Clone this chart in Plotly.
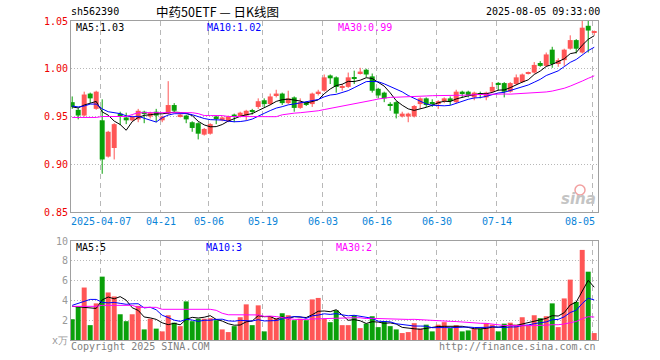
import pandas as pd
import plotly.graph_objects as go

# ---------------- data ----------------
holidays = ["2025-04-04", "2025-05-01", "2025-05-02", "2025-05-05", "2025-06-02"]
dates = [d.strftime("%Y-%m-%d") for d in pd.bdate_range("2025-03-28", "2025-08-05")
         if d.strftime("%Y-%m-%d") not in holidays]

opens = [0.965, 0.957, 0.951, 0.974, 0.958, 0.946, 0.908, 0.917, 0.953, 0.949,
         0.946, 0.947, 0.955, 0.950, 0.955, 0.946, 0.953, 0.962, 0.950, 0.951,
         0.944, 0.943, 0.931, 0.932, 0.950, 0.946, 0.945, 0.952, 0.950, 0.951,
         0.956, 0.960, 0.967, 0.963, 0.972, 0.974, 0.964, 0.970, 0.959, 0.965,
         0.963, 0.974, 0.977, 0.993, 0.991, 0.980, 0.981, 0.991, 0.995, 0.999,
         0.992, 0.979, 0.975, 0.963, 0.965, 0.950, 0.950, 0.950, 0.963, 0.969,
         0.965, 0.963, 0.967, 0.969, 0.965, 0.976, 0.976, 0.970, 0.974, 0.970,
         0.976, 0.985, 0.985, 0.976, 0.984, 0.986, 0.995, 0.996, 1.006, 1.003,
         1.020, 1.005, 1.009, 1.021, 1.030, 1.017, 1.045, 1.038]
closes = [0.960, 0.951, 0.973, 0.969, 0.976, 0.905, 0.934, 0.942, 0.951, 0.946,
          0.950, 0.956, 0.953, 0.954, 0.951, 0.950, 0.962, 0.956, 0.952, 0.947,
          0.938, 0.932, 0.937, 0.942, 0.948, 0.949, 0.950, 0.950, 0.954, 0.956,
          0.955, 0.966, 0.963, 0.971, 0.974, 0.964, 0.969, 0.959, 0.965, 0.963,
          0.974, 0.976, 0.991, 0.990, 0.981, 0.981, 0.991, 0.990, 0.997, 0.994,
          0.977, 0.972, 0.969, 0.962, 0.953, 0.953, 0.953, 0.961, 0.969, 0.962,
          0.964, 0.966, 0.969, 0.967, 0.976, 0.974, 0.972, 0.975, 0.973, 0.975,
          0.981, 0.984, 0.976, 0.985, 0.991, 0.994, 0.996, 1.004, 1.003, 1.015,
          1.005, 1.009, 1.020, 1.030, 1.021, 1.043, 1.040, 1.039]
highs = [0.971, 0.959, 0.976, 0.975, 0.977, 0.968, 0.935, 0.943, 0.955, 0.954,
         0.951, 0.958, 0.956, 0.955, 0.958, 0.951, 0.987, 0.964, 0.953, 0.952,
         0.945, 0.944, 0.938, 0.943, 0.951, 0.950, 0.951, 0.953, 0.955, 0.957,
         0.958, 0.969, 0.969, 0.974, 0.978, 0.975, 0.977, 0.971, 0.969, 0.966,
         0.975, 0.978, 0.994, 0.994, 0.992, 0.984, 0.996, 0.998, 1.001, 1.000,
         0.995, 0.980, 0.976, 0.965, 0.966, 0.955, 0.954, 0.962, 0.970, 0.970,
         0.968, 0.967, 0.970, 0.971, 0.978, 0.977, 0.977, 0.976, 0.976, 0.976,
         0.986, 0.986, 0.986, 0.986, 0.994, 0.995, 0.997, 1.007, 1.008, 1.017,
         1.023, 1.011, 1.021, 1.035, 1.031, 1.051, 1.051, 1.040]
lows = [0.958, 0.947, 0.950, 0.964, 0.957, 0.890, 0.907, 0.905, 0.941, 0.942,
        0.945, 0.944, 0.943, 0.948, 0.944, 0.944, 0.952, 0.955, 0.949, 0.943,
        0.934, 0.926, 0.930, 0.931, 0.942, 0.945, 0.944, 0.944, 0.949, 0.946,
        0.952, 0.958, 0.960, 0.962, 0.970, 0.962, 0.963, 0.955, 0.958, 0.961,
        0.960, 0.972, 0.976, 0.984, 0.975, 0.977, 0.980, 0.984, 0.994, 0.991,
        0.975, 0.969, 0.965, 0.956, 0.948, 0.949, 0.944, 0.949, 0.958, 0.960,
        0.960, 0.958, 0.964, 0.962, 0.964, 0.970, 0.970, 0.967, 0.969, 0.967,
        0.975, 0.977, 0.970, 0.975, 0.983, 0.985, 0.994, 0.995, 1.002, 1.002,
        1.001, 1.002, 1.003, 1.020, 1.016, 1.016, 1.017, 1.035]
volumes = [2.1, 3.35, 5.3, 1.5, 3.7, 6.4, 4.8, 4.4, 2.6, 1.9,
           2.6, 3.45, 1.07, 2.15, 1.15, 0.87, 2.5, 1.75, 1.4, 3.9,
           1.9, 2.15, 2.15, 2.2, 2.0, 1.07, 0.8, 1.4, 2.3, 3.6,
           1.5, 3.5, 0.87, 2.4, 2.2, 2.7, 2.5, 2.0, 2.15, 2.0,
           4.1, 4.25, 2.15, 1.8, 3.0, 1.5, 1.5, 2.5, 1.2, 1.65,
           2.4, 1.3, 1.9, 1.4, 1.07, 0.7, 0.8, 1.7, 1.15, 1.55,
           0.87, 1.55, 1.8, 1.2, 1.5, 0.87, 0.97, 1.15, 1.15, 1.7,
           1.55, 0.87, 1.65, 1.75, 1.55, 2.3, 1.5, 2.5, 2.2, 2.4,
           3.7, 1.3, 4.2, 6.1, 3.85, 9.1, 6.9, 0.7]

# moving-average values before a full window exists
ma5_head = [0.960, 0.959, 0.962, 0.964]
ma10_head = [0.961, 0.960, 0.961, 0.963, 0.963, 0.958, 0.955, 0.954, 0.953]
ma30_head = [0.949, 0.949, 0.949, 0.949, 0.949, 0.950, 0.950, 0.950, 0.950, 0.950,
             0.952, 0.954, 0.954, 0.954, 0.954, 0.954, 0.954, 0.954, 0.954, 0.954,
             0.954, 0.953, 0.951, 0.951, 0.951, 0.951, 0.950, 0.950, 0.950]
vma5_head = [3.4, 3.35, 3.3, 3.3]
vma10_head = [3.5, 3.7, 3.9, 4.1, 4.1, 3.8, 3.75, 3.8, 3.7]
vma30_head = [3.4, 3.4, 3.4, 3.4, 3.4, 3.5, 3.5, 3.5, 3.5, 3.5,
              3.5, 3.3, 3.3, 3.3, 3.3, 3.1, 3.1, 3.1, 3.1, 3.1,
              3.1, 3.1, 3.1, 3.1, 3.0, 2.7, 2.55, 2.55, 2.55]

tick_dates = ["2025-04-07", "2025-04-21", "2025-05-06", "2025-05-19", "2025-06-03",
              "2025-06-16", "2025-06-30", "2025-07-14", "2025-08-05"]
tick_labels = ["2025-04-07", "04-21", "05-06", "05-19", "06-03",
               "06-16", "06-30", "07-14", "08-05"]
price_ticks = [0.85, 0.90, 0.95, 1.00, 1.05]
vol_ticks = [0, 2, 4, 6, 8, 10]
vol_ticktext = ["x万", "2", "4", "6", "8", "10"]

code = "sh562390"
title = "中药50ETF — 日K线图"
stamp = "2025-08-05 09:33:00"
price_legend = [("MA5:1.03", "#000000"), ("MA10:1.02", "#0000ff"), ("MA30:0.99", "#ff00ff")]
vol_legend = [("MA5:5", "#000000"), ("MA10:3", "#0000ff"), ("MA30:2", "#ff00ff")]

# ---------------- derived ----------------
def ma(values, n, head):
    s = pd.Series(values).rolling(n).mean().tolist()
    s[:n - 1] = head
    return s

ma5 = ma(closes, 5, ma5_head)
ma10 = ma(closes, 10, ma10_head)
ma30 = ma(closes, 30, ma30_head)
vma5 = ma(volumes, 5, vma5_head)
vma10 = ma(volumes, 10, vma10_head)
vma30 = ma(volumes, 30, vma30_head)

RED = "#ff5656"
GREEN = "#0aa00a"
idx = list(range(len(dates)))
up = [c >= o for o, c in zip(opens, closes)]
colors = [RED if u else GREEN for u in up]

W, H = 660, 360
L, R = 71, 598
PT, PB = 21, 212
VT, VB = 241, 340
XR = [-0.2, 87.63]
MONO = "DejaVu Sans Mono"

def fx(p):
    return p / W

def fy(p):
    return 1 - p / H

fig = go.Figure()

# wicks
for col, flag in ((RED, True), (GREEN, False)):
    wx, wy = [], []
    for i in idx:
        if up[i] == flag:
            wx += [i, i, None]
            wy += [lows[i], highs[i], None]
    fig.add_trace(go.Scatter(x=wx, y=wy, mode="lines", line=dict(color=col, width=1),
                             xaxis="x", yaxis="y", hoverinfo="skip"))

# bodies
fig.add_trace(go.Bar(
    x=idx,
    base=[min(o, c) for o, c in zip(opens, closes)],
    y=[max(abs(c - o), 0.0012) for o, c in zip(opens, closes)],
    width=0.83, marker=dict(color=colors, line=dict(width=0)),
    xaxis="x", yaxis="y", hoverinfo="skip"))

for series, col in ((ma5, "#000000"), (ma10, "#0000ff"), (ma30, "#ff00ff")):
    fig.add_trace(go.Scatter(x=idx, y=series, mode="lines", line=dict(color=col, width=1),
                             xaxis="x", yaxis="y", hoverinfo="skip"))

# volume
fig.add_trace(go.Bar(x=idx, y=volumes, width=0.83,
                     marker=dict(color=colors, line=dict(width=0)),
                     xaxis="x2", yaxis="y2", hoverinfo="skip"))
for series, col in ((vma5, "#000000"), (vma10, "#0000ff"), (vma30, "#ff00ff")):
    fig.add_trace(go.Scatter(x=idx, y=series, mode="lines", line=dict(color=col, width=1),
                             xaxis="x2", yaxis="y2", hoverinfo="skip"))

tick_idx = [dates.index(d) for d in tick_dates]
grid_pos = [i - 0.25 for i in tick_idx]

axis_common = dict(showline=True, mirror=True, linecolor="#a0a0a0", linewidth=1,
                   zeroline=False, fixedrange=True, automargin=False)
xcommon = dict(axis_common, range=XR, domain=[fx(L), fx(R)], tickvals=grid_pos,
               showticklabels=False, showgrid=True, gridcolor="#b8b8b8",
               griddash="5px,4px", gridwidth=1, ticks="")

fig.update_layout(
    template="none",
    width=W, height=H, margin=dict(l=0, r=0, t=0, b=0, pad=0, autoexpand=False),
    paper_bgcolor="white", plot_bgcolor="white", showlegend=False,
    barmode="overlay",
    xaxis=dict(xcommon, anchor="y"),
    xaxis2=dict(xcommon, anchor="y2", matches="x"),
    yaxis=dict(axis_common, range=[0.85, 1.05], domain=[fy(PB), fy(PT)],
               tickvals=price_ticks, ticktext=["%.2f" % v for v in price_ticks],
               tickfont=dict(family=MONO, size=10, color="#ee0000"),
               showgrid=True, gridcolor="#b8b8b8", griddash="1px,2px", ticks="",
               anchor="x"),
    yaxis2=dict(axis_common, range=[0, 10], domain=[fy(VB), fy(VT)],
                tickvals=vol_ticks, ticktext=vol_ticktext,
                tickfont=dict(family=MONO, size=10, color="#999999"),
                showgrid=True, gridcolor="#b8b8b8", griddash="1px,2px", ticks="",
                anchor="x2"),
)

ann = []
def text(x, y, s, color="#000000", size=10, anchor="left", family=MONO, **kw):
    ann.append(dict(x=x, y=y, xref="paper", yref="paper", text=s, showarrow=False,
                    xanchor=anchor, yanchor="middle", borderpad=0,
                    font=dict(family=family, size=size, color=color), **kw))

text(fx(70), fy(12), code, size=10)
text(fx(217), fy(11.5), title, size=12.5, anchor="center", family="Noto Sans CJK SC")
text(fx(601), fy(12), stamp, size=10, anchor="right")
for (s, c), px in zip(price_legend, (75, 206, 337)):
    text(fx(px), fy(27.5), s, color=c, size=10)
for (s, c), px in zip(vol_legend, (75, 205, 335)):
    text(fx(px), fy(247), s, color=c, size=10)
text(fx(70), fy(346), "Copyright 2025 SINA.COM", color="#808080", size=10)
text(fx(597), fy(346), "http://finance.sina.com.cn", color="#808080", size=10, anchor="right")
text(fx(597), fy(199), "<b><i>sina</i></b>", color="#c4c4c4", size=15, anchor="right",
     family="DejaVu Sans")

# date labels
for k, (gp, lab) in enumerate(zip(grid_pos, tick_labels)):
    last = k == len(tick_labels) - 1
    ann.append(dict(x=tick_idx[k] if last else gp, y=fy(221), xref="x", yref="paper",
                    text=lab, showarrow=False, borderpad=0,
                    xanchor="right" if last else "center", yanchor="middle",
                    xshift=2 if last else 0,
                    font=dict(family=MONO, size=10, color="#0a84d8")))
fig.update_layout(annotations=ann)

# sina eye
fig.add_shape(type="circle", xref="paper", yref="paper",
              x0=fx(575), x1=fx(585), y0=fy(195), y1=fy(185),
              line=dict(color="#f2a0a0", width=1.5), fillcolor="rgba(0,0,0,0)")

fig.write_html("out.html", config={"displayModeBar": False},
               post_script="document.body.style.margin='0';document.body.style.padding='0';")
